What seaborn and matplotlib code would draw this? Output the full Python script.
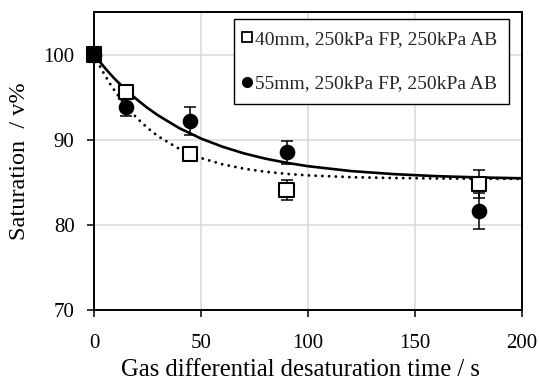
import numpy as np
import pandas as pd
import matplotlib
matplotlib.use("Agg")
import matplotlib.pyplot as plt
import seaborn as sns
from matplotlib.lines import Line2D

# ---- data ----
time_s = [0, 15, 45, 90, 180]
sat_40mm = [100.0, 95.6, 88.3, 84.1, 84.8]
err_40mm = [0.0, 0.0, 0.0, 1.2, 1.6]
sat_55mm = [100.0, 93.9, 92.2, 88.5, 81.6]
err_55mm = [0.0, 1.1, 1.7, 1.4, 2.1]

# trend lines
curve_t = [0, 2.5, 5, 7.5, 10, 15, 20, 25, 30, 40, 50, 60, 70, 80, 90, 100,
           120, 140, 160, 180, 200]
curve_solid = [100.0, 99.21, 98.46, 97.74, 97.07, 95.83, 94.73, 93.73, 92.85,
               91.34, 90.14, 89.18, 88.40, 87.78, 87.29, 86.89, 86.32, 85.96,
               85.72, 85.57, 85.47]
curve_dotted = [100.0, 98.75, 97.61, 96.57, 95.62, 93.95, 92.55, 91.38, 90.40,
                88.90, 87.85, 87.11, 86.60, 86.24, 85.99, 85.81, 85.60, 85.50,
                85.45, 85.42, 85.41]

label_40 = "40mm, 250kPa FP, 250kPa AB"
label_55 = "55mm, 250kPa FP, 250kPa AB"
x_ticks = [0, 50, 100, 150, 200]
y_ticks = [70, 80, 90, 100]

sns.set_style("white")
plt.rcParams["font.family"] = ["Liberation Serif", "DejaVu Serif"]

fig = plt.figure(figsize=(5.39, 3.86), dpi=100)
ax = fig.add_axes([94 / 539, 1 - 310 / 386, (522 - 94) / 539, (310 - 12) / 386])

grid_c = "#d9d9d9"
ax.set_axisbelow(True)
ax.grid(True, color=grid_c, linewidth=1.1)

df_curve = pd.DataFrame({"t": curve_t, "solid": curve_solid, "dotted": curve_dotted})
sns.lineplot(data=df_curve, x="t", y="solid", ax=ax, color="black", linewidth=1.9,
             zorder=3, legend=False)
sns.lineplot(data=df_curve, x="t", y="dotted", ax=ax, color="black", linewidth=2.1,
             zorder=3, legend=False)
ax.lines[-1].set_linestyle((0, (0.01, 2.3)))
ax.lines[-1].set_dash_capstyle("round")

ax.errorbar(time_s[1:], sat_40mm[1:], yerr=err_40mm[1:], fmt="none", ecolor="black",
            elinewidth=1.1, capsize=4.5, capthick=1.1, zorder=4)
ax.errorbar(time_s[1:], sat_55mm[1:], yerr=err_55mm[1:], fmt="none", ecolor="black",
            elinewidth=1.1, capsize=4.5, capthick=1.1, zorder=4)

df_pts = pd.DataFrame({"t": time_s, "s40": sat_40mm, "s55": sat_55mm})
n_before = len(ax.collections)
sns.scatterplot(data=df_pts, x="t", y="s55", ax=ax, marker="o", s=105,
                color="black", edgecolor="black", linewidth=1.0, zorder=5,
                legend=False)
sns.scatterplot(data=df_pts, x="t", y="s40", ax=ax, marker="s", s=105,
                color="white", edgecolor="black", linewidth=1.5, zorder=6,
                legend=False)
coll55, coll40 = ax.collections[n_before], ax.collections[n_before + 1]
coll40.set_facecolor(["black"] + ["white"] * (len(time_s) - 1))
for c in (coll55, coll40):
    c.set_clip_on(False)

ax.set_xlim(0, 200)
ax.set_ylim(70, 105)
ax.set_xticks(x_ticks)
ax.set_yticks(y_ticks)
ax.tick_params(axis="both", direction="out", length=5, width=1.1, color="black",
               labelsize=15, pad=9, bottom=True, left=True, labelcolor="black")
ax.tick_params(axis="x", pad=12)
for sp in ax.spines.values():
    sp.set_visible(True)
    sp.set_color("black")
    sp.set_linewidth(1.4)

ax.set_xlabel("Gas differential desaturation time / s", fontsize=17.7,
              color="black")
ax.xaxis.set_label_coords((300 - 94) / 428, -0.165)
ax.set_ylabel("Saturation  / v%", fontsize=17.5, labelpad=10, color="black")

h40 = Line2D([], [], marker="s", linestyle="none", markersize=6.5,
             markerfacecolor="white", markeredgecolor="black", markeredgewidth=1.3)
h55 = Line2D([], [], marker="o", linestyle="none", markersize=7,
             markerfacecolor="black", markeredgecolor="black")
leg = ax.legend([h40, h55], [label_40, label_55], loc="upper right",
                bbox_to_anchor=(509 / 539, 1 - 19 / 386), bbox_transform=fig.transFigure,
                fontsize=14, frameon=True, fancybox=False, edgecolor="black",
                framealpha=1, handlelength=0.15, handletextpad=0.32,
                labelspacing=1.37, borderpad=0.6, borderaxespad=0)
leg.get_frame().set_linewidth(1.0)
leg.set_zorder(10)

fig.savefig("out.png", dpi=100)
